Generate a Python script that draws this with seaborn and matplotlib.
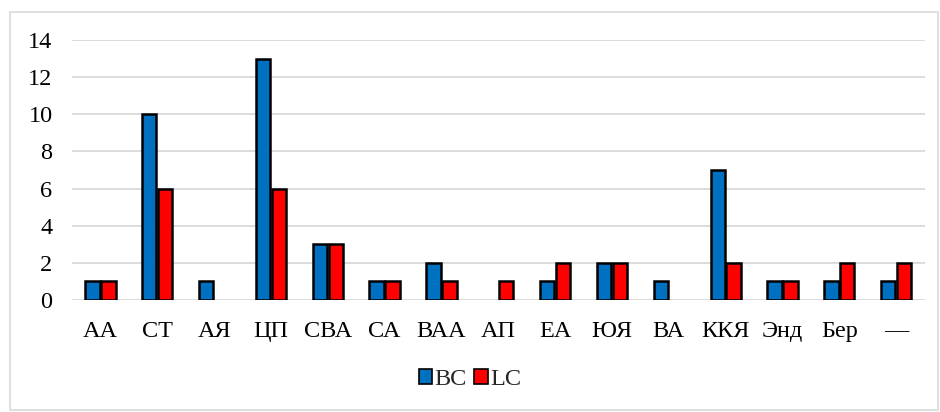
import pandas as pd
import matplotlib.pyplot as plt
import seaborn as sns
from matplotlib.patches import Rectangle

categories = ['АА', 'СТ', 'АЯ', 'ЦП', 'СВА', 'СА', 'ВАА', 'АП', 'ЕА', 'ЮЯ', 'ВА', 'ККЯ', 'Энд', 'Бер', '—']
bc_values = [1, 10, 1, 13, 3, 1, 2, 0, 1, 2, 1, 7, 1, 1, 1]
lc_values = [1, 6, 0, 6, 3, 1, 1, 1, 2, 2, 0, 2, 1, 2, 2]
series_names = ['BC', 'LC']
y_ticks = [0, 2, 4, 6, 8, 10, 12, 14]

df = pd.DataFrame({
    'cat': categories * 2,
    'value': bc_values + lc_values,
    'series': [series_names[0]] * len(categories) + [series_names[1]] * len(categories),
})

sns.set_style('white')
plt.rcParams['font.family'] = ['Liberation Serif', 'DejaVu Serif']

fig = plt.figure(figsize=(9.4, 4.12), dpi=100)
ax = fig.add_axes([0.0766, 0.272, 0.907, 0.631])

sns.barplot(data=df, x='cat', y='value', hue='series', order=categories,
            hue_order=series_names, palette=['#0070C0', '#FF0000'],
            saturation=1, width=0.56, gap=0.1, edgecolor='black', linewidth=1.8,
            ax=ax, legend=False)

# empty bars should not leave a line on the axis
for p in ax.patches:
    if p.get_height() == 0:
        p.set_visible(False)

ax.set_ylim(0, 14)
ax.set_xlim(-0.5, len(categories) - 0.5)
ax.set_yticks(y_ticks)
ax.yaxis.grid(True, color='#D9D9D9', linewidth=1.3)
ax.set_axisbelow(True)
for s in ax.spines.values():
    s.set_visible(False)
ax.set_xlabel('')
ax.set_ylabel('')
ax.tick_params(axis='both', length=0, labelsize=17.5, colors='black')
ax.tick_params(axis='x', pad=15)
ax.tick_params(axis='y', pad=14)

# legend
handles = [Rectangle((0, 0), 1, 1, facecolor=c, edgecolor='black', linewidth=1.2)
           for c in ['#0070C0', '#FF0000']]
fig.legend(handles, series_names, loc='center', bbox_to_anchor=(0.5, 0.078),
           ncol=2, frameon=False, fontsize=17.5, handlelength=0.55, handleheight=0.55,
           handletextpad=0.1, columnspacing=0.3)

# chart border
fig.patches.append(Rectangle((10 / 940, 2 / 412), 928 / 940, 398 / 412,
                             transform=fig.transFigure, fill=False,
                             edgecolor='#D9D9D9', linewidth=1.2))

fig.savefig('out.png', dpi=100)
